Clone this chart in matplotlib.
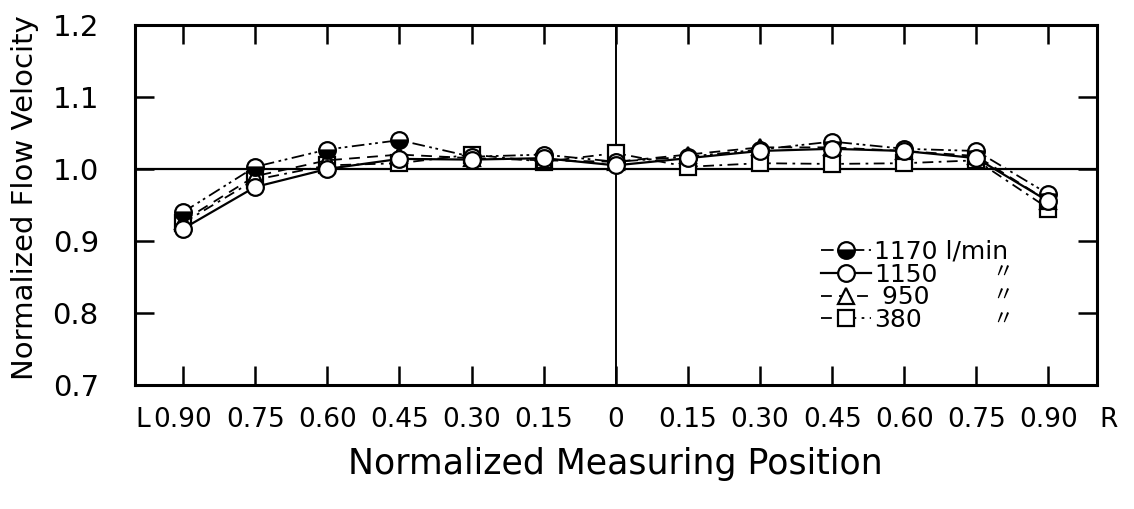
import matplotlib
matplotlib.use("Agg")
import matplotlib.pyplot as plt

positions = [-0.9, -0.75, -0.6, -0.45, -0.3, -0.15, 0.0, 0.15, 0.3, 0.45, 0.6, 0.75, 0.9]
tick_labels = ["0.90", "0.75", "0.60", "0.45", "0.30", "0.15", "0",
               "0.15", "0.30", "0.45", "0.60", "0.75", "0.90"]
v1170 = [0.940, 1.003, 1.027, 1.040, 1.017, 1.020, 1.010, 1.017, 1.027, 1.038, 1.028, 1.025, 0.965]
v1150 = [0.917, 0.975, 1.000, 1.014, 1.013, 1.015, 1.005, 1.015, 1.025, 1.028, 1.025, 1.015, 0.955]
v950 = [0.928, 0.990, 1.012, 1.020, 1.015, 1.012, 1.010, 1.020, 1.030, 1.030, 1.025, 1.018, 0.955]
v380 = [0.925, 0.985, 1.005, 1.008, 1.020, 1.010, 1.022, 1.003, 1.008, 1.007, 1.008, 1.012, 0.945]
y_ticks = [0.7, 0.8, 0.9, 1.0, 1.1, 1.2]

tick_font = ["DejaVu Sans"]
label_font = ["DejaVu Sans"]

fig = plt.figure(figsize=(11.34, 5.09), dpi=100)
ax = fig.add_axes([0.119, 0.2436, 0.848, 0.7074])

ms = 12
mew = 1.6
ax.plot(positions, v380, color="black", lw=1.3, ls=(0, (6, 3, 1.5, 3)),
        marker="s", ms=ms - 1, mfc="white", mec="black", mew=mew, label="380", zorder=3)
ax.plot(positions, v950, color="black", lw=1.3, ls=(0, (6, 4)),
        marker="^", ms=ms - 1, mfc="white", mec="black", mew=mew, label=" 950", zorder=4)
ax.plot(positions, v1170, color="black", lw=1.3, ls=(0, (7, 2.5, 1.5, 2, 1.5, 2.5)),
        marker="o", ms=ms, mfc="black", mfcalt="white", fillstyle="bottom",
        mec="black", mew=mew, label="1170 l/min", zorder=5)
ax.plot(positions, v1150, color="black", lw=1.6, ls="-",
        marker="o", ms=ms, mfc="white", mec="black", mew=mew, label="1150", zorder=6)

ax.axhline(1.0, color="black", lw=1.6, zorder=2)
ax.axvline(0.0, color="black", lw=1.4, zorder=2)

ax.set_xlim(-1.0, 1.0)
ax.set_ylim(0.7, 1.2)
ax.set_xticks(positions)
ax.set_xticklabels(tick_labels, family=tick_font, fontsize=19)
ax.set_yticks(y_ticks)
ax.set_yticklabels(["%.1f" % t for t in y_ticks], family=tick_font, fontsize=21)
ax.tick_params(axis="x", which="both", direction="in", length=14, width=1.8,
               top=True, bottom=True, pad=16)
ax.tick_params(axis="y", which="both", direction="in", length=14, width=1.8,
               left=True, right=True, pad=26)
for s in ax.spines.values():
    s.set_linewidth(2.2)

ax.set_xlabel("Normalized Measuring Position", family=label_font, fontsize=25, labelpad=10)
ax.set_ylabel("Normalized Flow Velocity", family=label_font, fontsize=21)
ax.yaxis.set_label_coords(-0.1, 0.52)

ax.text(-1.0, -0.06, "L", transform=ax.get_xaxis_transform(), family=tick_font,
        fontsize=19, ha="left", va="top")
ax.text(1.005, -0.06, "R", transform=ax.get_xaxis_transform(), family=tick_font,
        fontsize=19, ha="left", va="top")

handles, labels = ax.get_legend_handles_labels()
order = [2, 3, 1, 0]
leg = ax.legend([handles[i] for i in order], [labels[i] for i in order],
                loc="upper left", bbox_to_anchor=(0.70, 0.438), frameon=False,
                prop={"family": tick_font, "size": 18}, handlelength=2.0,
                handletextpad=0.15, labelspacing=-0.05, borderpad=0)
for yy in [0.311, 0.247, 0.181]:
    ax.text(0.902, yy, "〃", transform=ax.transAxes, family=["Noto Sans CJK JP", "DejaVu Sans"],
            fontsize=15, ha="center", va="center")

fig.savefig("out.png", dpi=100)
